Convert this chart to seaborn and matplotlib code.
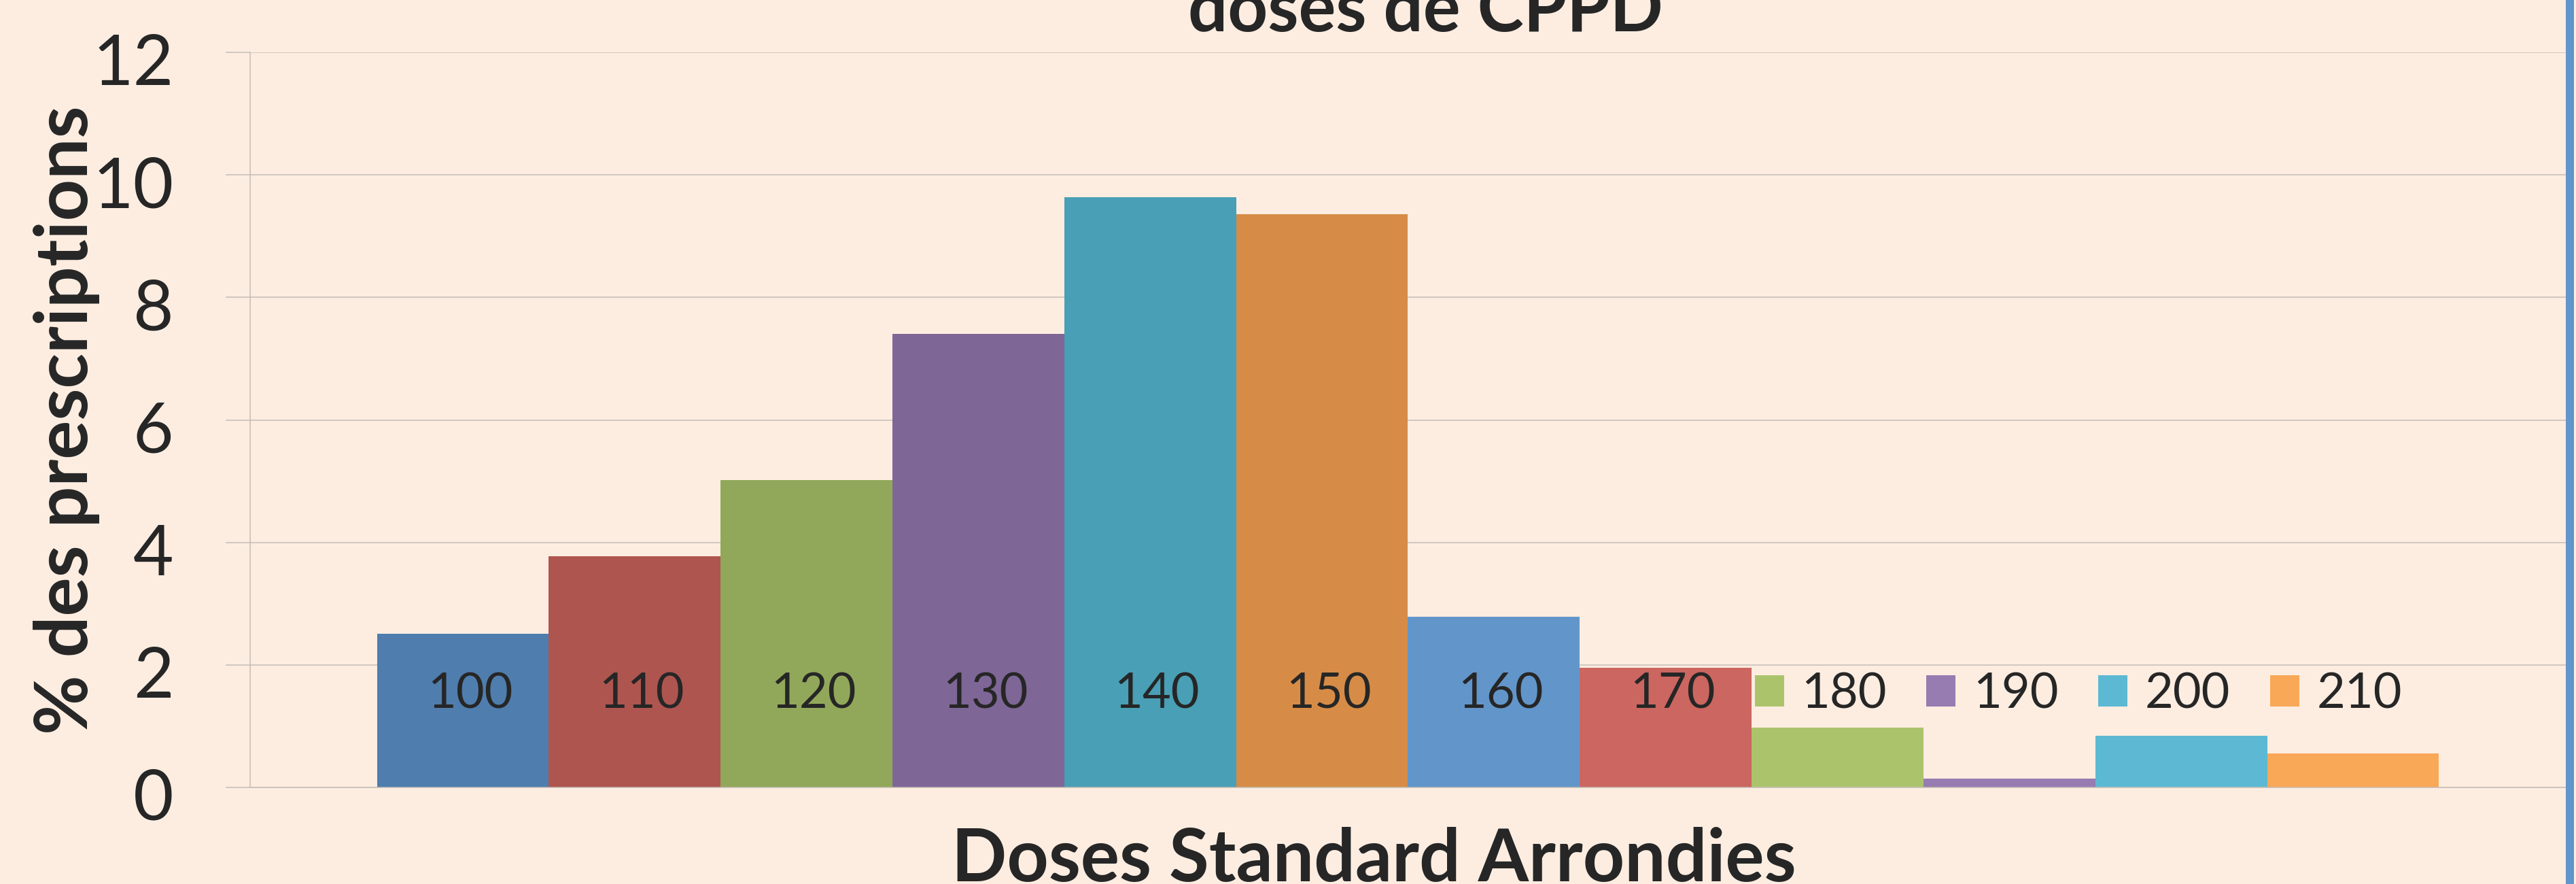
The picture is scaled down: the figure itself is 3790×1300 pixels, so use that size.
import pandas as pd
import matplotlib
matplotlib.use("Agg")
import matplotlib.pyplot as plt
import matplotlib.transforms as mtransforms
import seaborn as sns
from matplotlib.patches import Rectangle

# données
doses = ["100", "110", "120", "130", "140", "150", "160", "170", "180", "190", "200", "210"]
pct = [2.51, 3.77, 5.02, 7.40, 9.64, 9.36, 2.79, 1.95, 0.98, 0.14, 0.84, 0.55]
couleurs = ["#4f7dae", "#ae5550", "#91a85a", "#7e6696", "#499fb5", "#d68c46",
            "#6296ca", "#cc6660", "#abc46c", "#967cb1", "#5db9d3", "#f9a857"]
yticks = [0, 2, 4, 6, 8, 10, 12]

fond = "#fdede1"
grille = "#c4bdb6"

sns.set_style("white", {"axes.facecolor": fond, "figure.facecolor": fond})
plt.rcParams["font.family"] = ["Lato", "DejaVu Sans"]

W, H = 3791, 1300
fig = plt.figure(figsize=(W / 100, H / 100), dpi=100)
ax = fig.add_axes([368 / W, 1 - 1158 / H, (3775 - 368) / W, (1158 - 77) / H])

df = pd.DataFrame({"cat": ["Doses"] * len(doses), "dose": doses, "pct": pct})
sns.barplot(data=df, x="cat", y="pct", hue="dose", hue_order=doses,
            palette=couleurs, width=0.8905, linewidth=0, saturation=1,
            errorbar=None, ax=ax, zorder=2)

ax.set_xlim(-0.5, 0.5)
ax.set_ylim(0, 12)
ax.set_yticks(yticks)
ax.set_yticklabels([str(t) for t in yticks], fontsize=74)
ax.tick_params(axis="y", length=26, width=1.1, color=grille, pad=55, left=True)
ax.tick_params(axis="x", bottom=False, labelbottom=False)
# les étiquettes sont un peu plus bas que les lignes
decal = mtransforms.ScaledTranslation(0, -0.10, fig.dpi_scale_trans)
for lab in ax.get_yticklabels():
    lab.set_transform(lab.get_transform() + decal)
ax.yaxis.grid(True, color=grille, linewidth=1.1, zorder=0)
ax.set_axisbelow(True)
for s in ["top", "right"]:
    ax.spines[s].set_visible(False)
for s in ["left", "bottom"]:
    ax.spines[s].set_color(grille)
    ax.spines[s].set_linewidth(1.1)

ax.set_ylabel("% des prescriptions", fontsize=77, fontweight="bold")
ax.yaxis.set_label_coords(-0.0649, 0.5)
ax.set_xlabel("Doses Standard Arrondies", fontsize=77, fontweight="bold")
ax.xaxis.label.set_va("baseline")
ax.xaxis.set_label_coords((2021 - 368) / 3407, -(1296 - 1158) / 1081)

# titre (seule la deuxième ligne est visible)
fig.text(2097 / W, 1 - 46 / H, "doses de CPPD", fontsize=74, fontweight="bold",
         ha="center", va="baseline")

# légende horizontale par-dessus les barres
fs = 52
fs_px = fs * 100 / 72
bar_px = 3034 / 12
ancre = ((560 - 368) / 3407, (1158 - 1021) / 1081)
leg = ax.legend(ncol=12, frameon=False, fontsize=fs, handlelength=43 / fs_px,
                handleheight=44 / fs_px, handletextpad=26 / fs_px,
                columnspacing=1.0, borderpad=0, borderaxespad=0,
                loc="center left", bbox_to_anchor=ancre)
fig.canvas.draw()
r = fig.canvas.get_renderer()
tw = max(t.get_window_extent(r).width for t in leg.get_texts())
sp = (bar_px - 43 - 26 - tw) / fs_px
leg.remove()
leg = ax.legend(ncol=12, frameon=False, fontsize=fs, handlelength=43 / fs_px,
                handleheight=44 / fs_px, handletextpad=26 / fs_px,
                columnspacing=sp, borderpad=0, borderaxespad=0,
                loc="center left", bbox_to_anchor=ancre)
leg.set_zorder(5)

# bordure bleue à droite
fig.add_artist(Rectangle((3775 / W, 0), 12 / W, 1, transform=fig.transFigure,
                         color="#6296ca", linewidth=0))

fig.savefig("out.png", dpi=100, facecolor=fond)
